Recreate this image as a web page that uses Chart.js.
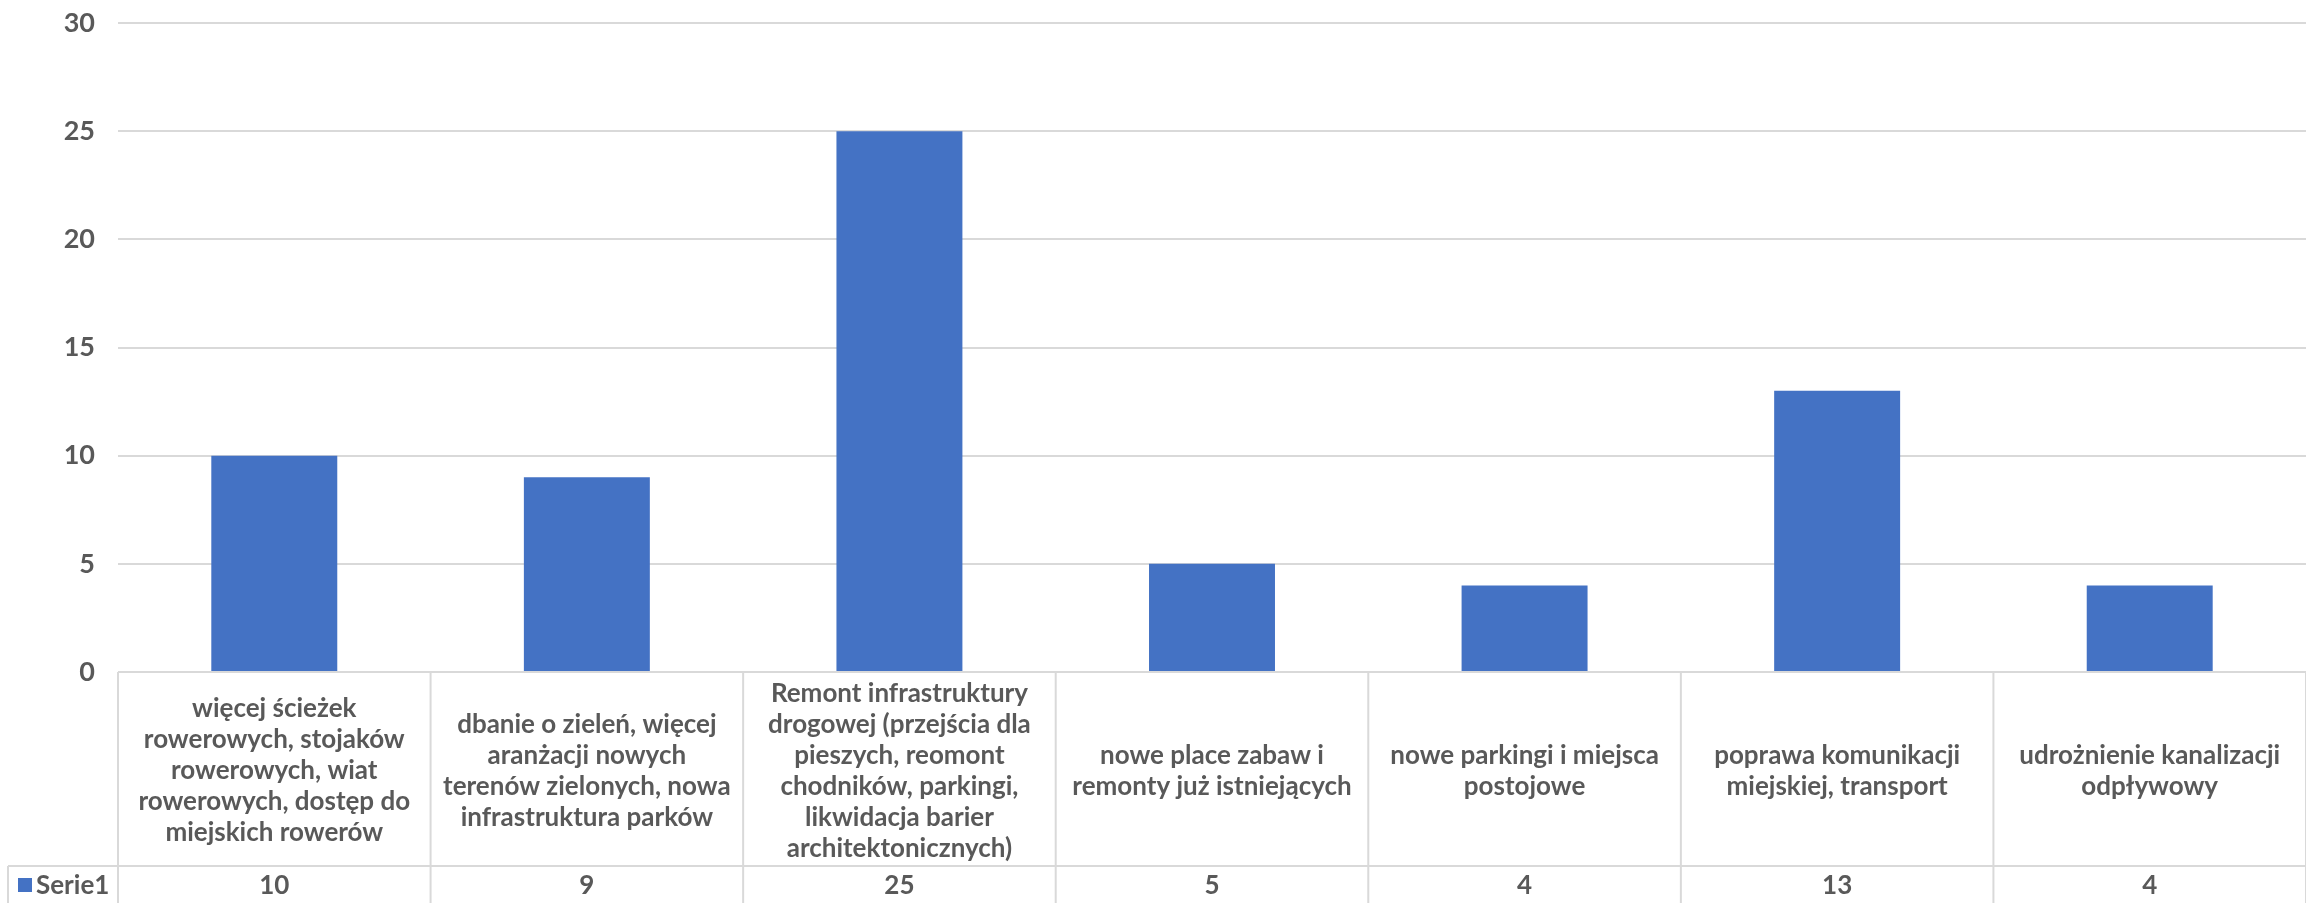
<!DOCTYPE html>
<html>
<head>
<meta charset="utf-8">
<script src="https://cdn.jsdelivr.net/npm/chart.js@4"></script>
<style>
  html,body{margin:0;padding:0;background:#fff;}
  #wrap{width:2306px;height:903px;position:relative;}
</style>
</head>
<body>
<div id="wrap"><canvas id="myChart"></canvas></div>
<script>
// ********data********
const categories=[
  ['więcej ścieżek','rowerowych, stojaków','rowerowych, wiat','rowerowych, dostęp do','miejskich rowerów'],
  ['dbanie o zieleń, więcej','aranżacji nowych','terenów zielonych, nowa','infrastruktura parków'],
  ['Remont infrastruktury','drogowej (przejścia dla','pieszych, reomont','chodników, parkingi,','likwidacja barier','architektonicznych)'],
  ['nowe place zabaw i','remonty już istniejących'],
  ['nowe parkingi i miejsca','postojowe'],
  ['poprawa komunikacji','miejskiej, transport'],
  ['udrożnienie kanalizacji','odpływowy']
];
const seriesName='Serie1';
const seriesValues=[10,9,25,5,4,13,4];
const yTicks=[0,5,10,15,20,25,30];

const textColor='#595959';
const lineColor='#d9d9d9';
const barColor='#4472C4';
const fontFamily='Lato, "Open Sans", sans-serif';

// ********data-table plugin********
const dataTable={
  id:'dataTable',
  afterDraw(chart){
    const {ctx,chartArea,scales:{x}}=chart;
    const H=chart.height;
    const top=chartArea.bottom;
    const rowY=866;
    const step=x.getPixelForValue(1)-x.getPixelForValue(0);
    ctx.save();
    ctx.strokeStyle=lineColor;
    ctx.lineWidth=2;
    // horizontal lines
    ctx.beginPath();
    ctx.moveTo(chartArea.left,top);ctx.lineTo(chartArea.right,top);
    ctx.moveTo(8,rowY);ctx.lineTo(chartArea.right,rowY);
    // vertical lines
    ctx.moveTo(8,rowY);ctx.lineTo(8,H);
    for(let i=0;i<=categories.length;i++){
      const xx=x.getPixelForValue(0)-step/2+i*step;
      ctx.moveTo(xx,top);ctx.lineTo(xx,H);
    }
    ctx.stroke();
    // header texts
    ctx.fillStyle=textColor;
    ctx.textAlign='center';
    ctx.textBaseline='middle';
    ctx.font='bold 26px '+fontFamily;
    const lh=31;
    const midY=(top+rowY)/2+2;
    categories.forEach((lines,i)=>{
      const cx=x.getPixelForValue(i);
      const y0=midY-(lines.length-1)*lh/2;
      lines.forEach((l,j)=>ctx.fillText(l,cx,y0+j*lh));
    });
    // values row
    seriesValues.forEach((v,i)=>{
      ctx.fillText(String(v),x.getPixelForValue(i),886);
    });
    // legend key
    ctx.fillStyle=barColor;
    ctx.fillRect(18,878,14,14);
    ctx.fillStyle=textColor;
    ctx.textAlign='left';
    ctx.fillText(seriesName,36,886);
    ctx.restore();
  }
};

const ctx=document.getElementById('myChart');
new Chart(ctx,{
  type:'bar',
  data:{
    labels:categories.map(c=>c.join(' ')),
    datasets:[{
      label:seriesName,
      data:seriesValues,
      backgroundColor:barColor,
      barPercentage:0.403,
      categoryPercentage:1
    }]
  },
  options:{
    responsive:true,
    maintainAspectRatio:false,
    animation:false,
    layout:{padding:{top:23,right:0,bottom:231,left:0}},
    plugins:{legend:{display:false},tooltip:{enabled:false}},
    scales:{
      x:{
        display:false
      },
      y:{
        min:0,max:30,
        afterBuildTicks:(s)=>{s.ticks=yTicks.map(v=>({value:v}));},
        afterFit:(s)=>{s.width=118;s.paddingTop=0;s.paddingBottom=0;},
        border:{display:false},
        grid:{color:lineColor,lineWidth:2,drawTicks:false},
        ticks:{
          padding:23,
          color:textColor,
          font:{family:fontFamily,size:27,weight:'bold'}
        }
      }
    }
  },
  plugins:[dataTable]
});
</script>
</body>
</html>
